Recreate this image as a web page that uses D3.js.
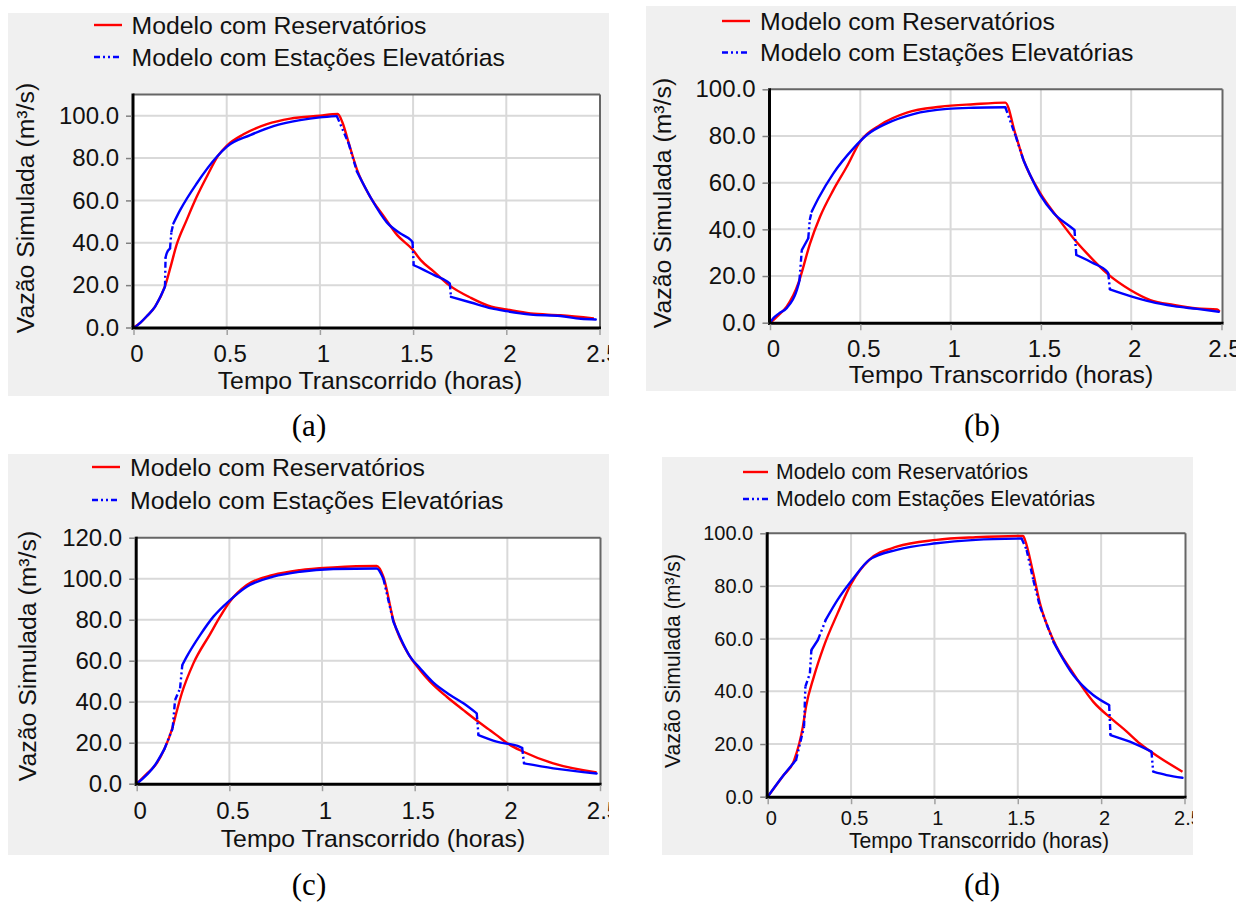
<!DOCTYPE html>
<html>
<head>
<meta charset="utf-8">
<script src="https://cdn.jsdelivr.net/npm/d3@7"></script>
<style>
  body{margin:0;background:#fff;}
  svg{display:block;}
</style>
</head>
<body>
<svg id="fig" width="1236" height="903"></svg>
<script>
/* ---------- DATA ---------- */
const X_TICKS=[0,0.5,1,1.5,2,2.5];
const X_TICK_LABELS=["0","0.5","1","1.5","2","2.5"];
const Y_TICKS_100=[0,20,40,60,80,100];
const Y_TICKS_120=[0,20,40,60,80,100,120];
const LEG_RES="Modelo com Reservatórios";
const LEG_EST="Modelo com Estações Elevatórias";
const X_TITLE="Tempo Transcorrido (horas)";
const Y_TITLE="Vazão Simulada (m³/s)";
const CAPTIONS=["(a)","(b)","(c)","(d)"];

/* [tempo (h), vazão (m3/s)] */
const redA=[[0,0],[0.036,2.2],[0.071,5.3],[0.115,9.7],[0.169,19.5],[0.2,29],[0.231,39],[0.285,50.7],
  [0.339,61.7],[0.393,71.2],[0.456,81.4],[0.5,85.8],[0.59,91.2],[0.716,96],[0.841,98.6],[1.0,100],
  [1.096,100.8],[1.12,97],[1.155,87],[1.2,74.3],[1.27,61.7],[1.344,52.3],[1.415,43.6],[1.496,36.9],
  [1.541,31.8],[1.613,26.3],[1.693,20],[1.81,14],[1.92,9.8],[2.0,8.5],[2.13,6.6],[2.29,5.8],[2.47,4.3]];
const blueA=[[0,0],[0.013,0.5],[0.036,2.2],[0.071,5.3],[0.115,9.7],[0.169,19.2],[0.172,33],[0.178,35],
  [0.196,37.3],[0.203,45],[0.214,49.1],[0.25,55.4],[0.339,68],[0.447,80.6],[0.5,85.3],[0.626,90.8],
  [0.751,95.1],[0.894,97.9],[1.0,99.2],[1.091,99.8],[1.154,86.9],[1.199,73.5],[1.27,61.7],[1.36,49.5],
  [1.43,44.5],[1.487,41.3],[1.497,40.3],[1.503,29.4],[1.541,27.9],[1.613,24.7],[1.685,21.6],[1.697,20.8],
  [1.703,14.5],[1.81,11.8],[1.92,9],[2.0,7.7],[2.13,6.1],[2.29,5.4],[2.4,4.1],[2.48,3.8]];

const redB=[[0,0],[0.009,0.5],[0.05,3.5],[0.092,6.9],[0.157,16.9],[0.166,19],[0.222,34],[0.277,45.4],
  [0.351,56.9],[0.425,66.8],[0.499,77.6],[0.61,84.7],[0.758,90],[0.942,92.5],[1.127,93.6],[1.303,94.3],
  [1.358,81],[1.404,69.7],[1.497,55.4],[1.589,45.4],[1.681,36.1],[1.755,29.7],[1.866,21.1],[1.995,14],
  [2.106,9.7],[2.236,7.6],[2.365,6.1],[2.476,5.7],[2.49,4.7]];
const blueB=[[0,0],[0.018,1.9],[0.05,4],[0.092,6.2],[0.157,16.2],[0.163,18],[0.176,31.1],[0.212,36.2],
  [0.22,44],[0.231,47.6],[0.268,53.3],[0.351,64],[0.462,74.7],[0.536,80.4],[0.647,85.4],[0.794,89.4],
  [0.98,91.6],[1.127,92.1],[1.303,92.3],[1.36,80],[1.404,69.5],[1.497,54.7],[1.571,46.9],[1.663,41.1],
  [1.686,39.7],[1.696,29],[1.792,25.4],[1.866,21.9],[1.873,21.1],[1.882,14.3],[1.995,11.4],[2.106,9],
  [2.236,7.1],[2.365,5.9],[2.485,4.7]];

const redC=[[0,0],[0.05,4.5],[0.108,9.9],[0.15,17],[0.189,26.2],[0.215,35],[0.243,44],[0.306,58.7],
  [0.396,73],[0.45,81.5],[0.504,89],[0.594,96.9],[0.737,101.8],[0.881,104.2],[1.061,105.5],[1.295,106.2],
  [1.331,101],[1.385,79.8],[1.475,62],[1.529,55.4],[1.583,49.8],[1.673,42.4],[1.763,35.9],[1.844,30.2],
  [1.9,26.5],[1.942,23.7],[2.0,19.7],[2.086,15.6],[2.248,9.9],[2.482,5.5]];
const blueC=[[0,0],[0.099,9.1],[0.15,17],[0.194,27],[0.207,40.8],[0.234,46.5],[0.246,57.9],[0.27,62],
  [0.342,72.5],[0.414,81.5],[0.504,89.6],[0.594,96.1],[0.737,101],[0.881,103.4],[1.061,104.7],[1.295,105],
  [1.331,100],[1.385,79],[1.475,62],[1.529,56.3],[1.601,49.3],[1.691,43.3],[1.763,39.2],[1.835,34.3],
  [1.844,23.7],[1.942,20.5],[2.068,18],[2.08,17.5],[2.09,9.9],[2.248,7.5],[2.482,5]];

const redD=[[0,0],[0.088,7.6],[0.159,13.9],[0.211,26.6],[0.23,34.2],[0.277,45.6],[0.336,57],[0.419,69.6],
  [0.502,81],[0.609,89.9],[0.774,94.9],[1.011,97.5],[1.248,98.5],[1.532,99],[1.543,97.5],[1.593,84.8],
  [1.633,73.4],[1.713,59.5],[1.833,46.8],[1.952,36.1],[2.072,29.1],[2.152,24.8],[2.232,20.2],[2.352,14.8],
  [2.488,9.5]];
const blueD=[[0,0],[0.088,7.6],[0.17,13.9],[0.218,26.6],[0.226,41.8],[0.253,46.8],[0.262,55.7],[0.301,59.5],
  [0.348,67.1],[0.419,74.7],[0.514,82.9],[0.609,89.9],[0.774,93.7],[1.011,96.2],[1.248,97.5],[1.523,98],
  [1.553,93.7],[1.593,82.3],[1.633,72.2],[1.713,58.9],[1.833,46.2],[1.952,38.6],[2.048,34.8],[2.056,23.4],
  [2.172,20.9],[2.302,17.1],[2.312,9.5],[2.392,8.2],[2.488,7.2]];

/* ---------- LAYOUT ---------- */
const FONT="'Liberation Sans',Arial,sans-serif";
const SERIF="'Liberation Serif','Times New Roman',serif";
const RED="#ff0000", BLUE="#0000ff";
const DASH="6,3,2,3,2,3";

const PANELS=[
  {red:redA,blue:blueA,cap:CAPTIONS[0],yMax:110,yTicks:Y_TICKS_100,
   bg:[8,13,601,383],x0:133.5,x1:599.5,y0:327.5,y1:94.5,r:600,
   fs:24.8,tfs:24,xlabOff:25.2,leg:{x1:94,x2:122,tx:131.5,y1:25,y2:57},
   yt:[25,208],xt:[370,389],cp:[309,436]},
  {red:redB,blue:blueB,cap:CAPTIONS[1],yMax:100,yTicks:Y_TICKS_100,
   bg:[646,6,590,385],x0:770,x1:1221.5,y0:322.7,y1:89.3,r:1222.5,
   fs:24.8,tfs:24,xlabOff:25.3,leg:{x1:722,x2:750,tx:760,y1:21,y2:52.5},
   yt:[662,203],xt:[1001,383],cp:[982,436]},
  {red:redC,blue:blueC,cap:CAPTIONS[2],yMax:120,yTicks:Y_TICKS_120,
   bg:[8,454,601,401],x0:136.7,x1:600,y0:783.7,y1:537.7,r:600.5,
   fs:24.8,tfs:24,xlabOff:26.3,leg:{x1:92,x2:120,tx:130,y1:467,y2:500},
   yt:[27,656],xt:[373,847],cp:[309,895]},
  {red:redD,blue:blueD,cap:CAPTIONS[3],yMax:100,yTicks:Y_TICKS_100,
   bg:[662,457,531,398],x0:767.7,x1:1184.5,y0:796.7,y1:533.3,r:1185.5,
   fs:21.2,tfs:20,xlabOff:21.3,leg:{x1:743,x2:768,tx:776,y1:472,y2:499},
   yt:[673,661],xt:[979,848],cp:[982,895]}
];

const svg=d3.select("#fig");
const defs=svg.append("defs");

/* steep steps of the pumping-station model show the dash pattern */
const isJump=(x,y,a,b)=>{
  const dx=Math.abs(x(b[0])-x(a[0])), dy=Math.abs(y(b[1])-y(a[1]));
  return dy>2.2*dx && dy>6;
};

function drawPanel(p,i){
  const [bx,by,bw,bh]=p.bg;
  defs.append("clipPath").attr("id","clip"+i)
    .append("rect").attr("x",bx).attr("y",by).attr("width",bw).attr("height",bh);
  const g=svg.append("g").attr("clip-path",`url(#clip${i})`);
  g.append("rect").attr("x",bx).attr("y",by).attr("width",bw).attr("height",bh).attr("fill","#f0f0f0");

  const x=d3.scaleLinear().domain([0,2.5]).range([p.x0,p.x1]);
  const y=d3.scaleLinear().domain([0,p.yMax]).range([p.y0,p.y1]);
  const L=p.x0-0.5, R=p.r, T=p.y1, B=p.y0+0.5;

  g.append("rect").attr("x",L).attr("y",T).attr("width",R-L).attr("height",B-T).attr("fill","#fff");

  /* grid */
  g.append("g").selectAll("line").data(p.yTicks.filter(v=>v>0&&v<p.yMax)).enter().append("line")
    .attr("x1",L).attr("x2",R).attr("y1",d=>y(d)).attr("y2",d=>y(d))
    .attr("stroke","#d9d9d9").attr("stroke-width",2);
  g.append("g").selectAll("line").data(X_TICKS.filter(v=>v>0&&v<2.5)).enter().append("line")
    .attr("y1",T).attr("y2",B).attr("x1",d=>x(d)).attr("x2",d=>x(d))
    .attr("stroke","#d9d9d9").attr("stroke-width",2);

  const line=d3.line().x(d=>x(d[0])).y(d=>y(d[1])).curve(d3.curveMonotoneX);

  /* red series */
  g.append("path").datum(p.red).attr("d",line)
    .attr("fill","none").attr("stroke",RED).attr("stroke-width",2.4)
    .attr("stroke-linejoin","round");

  /* blue series: smooth runs solid, steep steps dash-dot-dot */
  const runs=[], jumps=[];
  let cur=[p.blue[0]];
  d3.pairs(p.blue).forEach(([a,b])=>{
    if(isJump(x,y,a,b)){
      if(cur.length>1) runs.push(cur);
      jumps.push([a,b]); cur=[b];
    } else cur.push(b);
  });
  if(cur.length>1) runs.push(cur);
  g.append("g").selectAll("path").data(runs).enter().append("path")
    .attr("d",line).attr("fill","none").attr("stroke",BLUE).attr("stroke-width",2.4)
    .attr("stroke-linejoin","round").attr("stroke-linecap","round");
  g.append("g").selectAll("line").data(jumps).enter().append("line")
    .attr("x1",d=>x(d[0][0])).attr("y1",d=>y(d[0][1]))
    .attr("x2",d=>x(d[1][0])).attr("y2",d=>y(d[1][1]))
    .attr("stroke",BLUE).attr("stroke-width",2.4).attr("stroke-dasharray",DASH);

  /* frame */
  g.append("line").attr("x1",L).attr("x2",R).attr("y1",T).attr("y2",T).attr("stroke","#666").attr("stroke-width",2);
  g.append("line").attr("x1",R).attr("x2",R).attr("y1",T).attr("y2",B).attr("stroke","#666").attr("stroke-width",2);
  g.append("line").attr("x1",L).attr("x2",L).attr("y1",T-1).attr("y2",B+1.5).attr("stroke","#000").attr("stroke-width",3);
  g.append("line").attr("x1",L-1.5).attr("x2",R+1).attr("y1",B).attr("y2",B).attr("stroke","#000").attr("stroke-width",3);

  /* axes */
  const ya=g.append("g").attr("transform",`translate(${L-1},0)`)
    .call(d3.axisLeft(y).tickValues(p.yTicks).tickFormat(d3.format(".1f")).tickSize(6).tickPadding(7));
  ya.select(".domain").remove();
  ya.attr("font-family",FONT).attr("font-size",p.tfs);
  ya.selectAll("line").attr("stroke","#808080").attr("stroke-width",1.5);
  ya.selectAll("text").attr("fill","#111");

  const xa=g.append("g").attr("transform",`translate(0,${B+1})`)
    .call(d3.axisBottom(x).tickValues(X_TICKS).tickFormat((d,k)=>X_TICK_LABELS[k]).tickSize(6));
  xa.select(".domain").remove();
  xa.attr("font-family",FONT).attr("font-size",p.tfs);
  xa.selectAll("line").attr("stroke","#a0a0a0").attr("stroke-width",1.5);
  xa.selectAll("text").attr("fill","#111").attr("y",p.xlabOff-1).attr("dy","0.35em").attr("dx",3);

  /* legend */
  const lg=p.leg;
  g.append("line").attr("x1",lg.x1).attr("x2",lg.x2).attr("y1",lg.y1).attr("y2",lg.y1)
    .attr("stroke",RED).attr("stroke-width",2.4);
  g.append("line").attr("x1",lg.x1).attr("x2",lg.x2).attr("y1",lg.y2).attr("y2",lg.y2)
    .attr("stroke",BLUE).attr("stroke-width",2.4).attr("stroke-dasharray",DASH);
  [[LEG_RES,lg.y1],[LEG_EST,lg.y2]].forEach(([t,yy])=>{
    g.append("text").attr("x",lg.tx).attr("y",yy).attr("dy","0.35em")
      .attr("font-family",FONT).attr("font-size",p.fs).attr("fill","#111").text(t);
  });

  /* titles */
  g.append("text").attr("transform",`translate(${p.yt[0]},${p.yt[1]}) rotate(-90)`)
    .attr("text-anchor","middle").attr("dy","0.35em")
    .attr("font-family",FONT).attr("font-size",p.fs).attr("fill","#111").text(Y_TITLE);
  g.append("text").attr("x",p.xt[0]).attr("y",p.xt[1]).attr("text-anchor","middle")
    .attr("font-family",FONT).attr("font-size",p.fs).attr("fill","#111").text(X_TITLE);

  /* caption */
  svg.append("text").attr("x",p.cp[0]).attr("y",p.cp[1]).attr("text-anchor","middle")
    .attr("font-family",SERIF).attr("font-size",31).attr("fill","#000").text(p.cap);
}

PANELS.forEach(drawPanel);
</script>
</body>
</html>
